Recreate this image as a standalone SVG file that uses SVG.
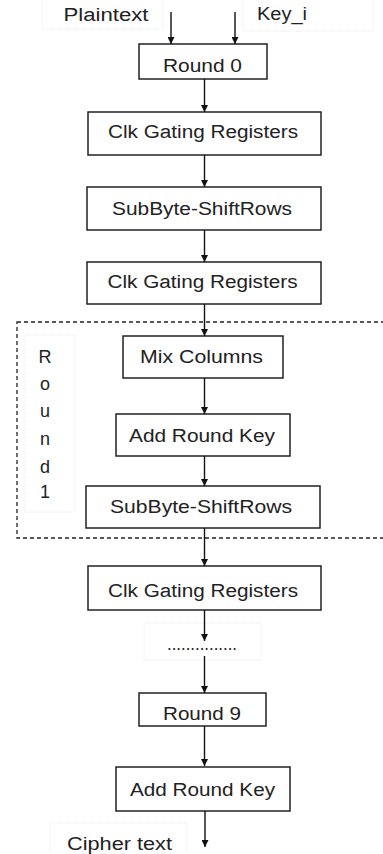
<svg xmlns="http://www.w3.org/2000/svg" width="383" height="854" viewBox="0 0 383 854">
<defs>
<marker id="ah" markerUnits="userSpaceOnUse" markerWidth="7" markerHeight="7" refX="7" refY="3.5" orient="auto">
<path d="M0,0 L7,3.5 L0,7 z" fill="#111"/>
</marker>
</defs>
<style>
.box{fill:#fff;stroke:#222;stroke-width:1.5}
.faint{fill:none;stroke:#e6ece6;stroke-width:1;stroke-dasharray:1 1}
.t{font-family:"Liberation Sans",Arial,sans-serif;font-size:18px;fill:#222;text-anchor:middle}
.c line{stroke:#111;stroke-width:1.4;marker-end:url(#ah)}
</style>
<rect width="383" height="854" fill="#fff"/>
<g id="plaintext">
<rect class="faint" x="42" y="-1" width="121" height="30"/>
<text class="t" x="106" y="21" textLength="85" lengthAdjust="spacingAndGlyphs">Plaintext</text>
</g>
<g id="key_i">
<rect class="faint" x="243" y="-1" width="130" height="32"/>
<text class="t" x="282" y="20" textLength="50" lengthAdjust="spacingAndGlyphs">Key_i</text>
</g>
<g id="round1">
<rect x="17" y="322" width="380" height="216" fill="none" stroke="#222" stroke-width="1.3" stroke-dasharray="4 3"/>
<rect class="faint" x="25" y="335" width="50" height="177"/>
<text class="t" x="45" y="363">R</text>
<text class="t" x="45" y="390">o</text>
<text class="t" x="45" y="417">u</text>
<text class="t" x="45" y="445">n</text>
<text class="t" x="45" y="473">d</text>
<text class="t" x="45" y="498">1</text>
</g>
<g id="round0">
<rect class="box" x="139" y="44" width="128" height="35"/>
<text class="t" x="202.5" y="72" textLength="79" lengthAdjust="spacingAndGlyphs">Round 0</text>
</g>
<g id="clk1">
<rect class="box" x="88" y="112" width="233" height="43"/>
<text class="t" x="203" y="138" textLength="190" lengthAdjust="spacingAndGlyphs">Clk Gating Registers</text>
</g>
<g id="sub1">
<rect class="box" x="87" y="187" width="234" height="43"/>
<text class="t" x="202" y="215" textLength="180" lengthAdjust="spacingAndGlyphs">SubByte-ShiftRows</text>
</g>
<g id="clk2">
<rect class="box" x="87" y="262" width="234" height="42"/>
<text class="t" x="202.5" y="288" textLength="190" lengthAdjust="spacingAndGlyphs">Clk Gating Registers</text>
</g>
<g id="mix">
<rect class="box" x="123" y="336" width="160" height="42"/>
<text class="t" x="201.5" y="363" textLength="123" lengthAdjust="spacingAndGlyphs">Mix Columns</text>
</g>
<g id="add1">
<rect class="box" x="116" y="414" width="174" height="42"/>
<text class="t" x="202" y="442" textLength="146" lengthAdjust="spacingAndGlyphs">Add Round Key</text>
</g>
<g id="sub2">
<rect class="box" x="86" y="486" width="234" height="42"/>
<text class="t" x="201" y="513" textLength="182" lengthAdjust="spacingAndGlyphs">SubByte-ShiftRows</text>
</g>
<g id="clk3">
<rect class="box" x="88" y="566" width="233" height="44"/>
<text class="t" x="203" y="597" textLength="190" lengthAdjust="spacingAndGlyphs">Clk Gating Registers</text>
</g>
<g id="dots">
<rect class="faint" x="144" y="623" width="117" height="37"/>
<text class="t" x="202" y="650" font-size="10" textLength="70" lengthAdjust="spacingAndGlyphs">...............</text>
</g>
<g id="round9">
<rect class="box" x="139" y="693" width="127" height="33"/>
<text class="t" x="202" y="720" textLength="78" lengthAdjust="spacingAndGlyphs">Round 9</text>
</g>
<g id="add2">
<rect class="box" x="116" y="767" width="174" height="44"/>
<text class="t" x="202.5" y="796" textLength="145" lengthAdjust="spacingAndGlyphs">Add Round Key</text>
</g>
<g id="ciphertext">
<rect class="faint" x="50" y="823" width="137" height="35"/>
<text class="t" x="119.5" y="850" textLength="105" lengthAdjust="spacingAndGlyphs">Cipher text</text>
</g>
<g id="connectors" class="c">
<line x1="171" y1="12" x2="171" y2="44"/>
<line x1="235" y1="12" x2="235" y2="44"/>
<line x1="204.5" y1="79" x2="204.5" y2="112"/>
<line x1="204.5" y1="155" x2="204.5" y2="187"/>
<line x1="204.5" y1="230" x2="204.5" y2="262"/>
<line x1="204.5" y1="304" x2="204.5" y2="336"/>
<line x1="204.5" y1="378" x2="204.5" y2="414"/>
<line x1="204.5" y1="456" x2="204.5" y2="486"/>
<line x1="204.5" y1="528" x2="204.5" y2="566"/>
<line x1="204.5" y1="610" x2="204.5" y2="641"/>
<line x1="204.5" y1="656" x2="204.5" y2="693"/>
<line x1="204.5" y1="726" x2="204.5" y2="766"/>
<line x1="205" y1="811" x2="205" y2="847"/>
</g>
</svg>
